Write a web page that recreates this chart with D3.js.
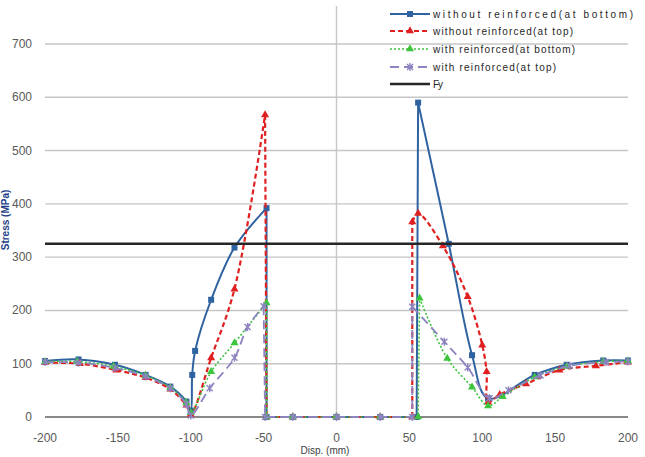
<!DOCTYPE html>
<html>
<head>
<meta charset="utf-8">
<script src="https://cdn.jsdelivr.net/npm/d3@7"></script>
<style>
  body { margin: 0; background: #fff; }
  text { font-family: "Liberation Sans", Arial, sans-serif; }
</style>
</head>
<body>
<script>
// values (disp in mm, stress in MPa)
var blueX = [-200, -177, -152, -131, -114, -103, -100, -99, -97, -86, -70, -48, -48, -30, 0, 30, 55, 56, 77, 93, 104, 136, 158, 183, 200];
var blueY = [105, 108, 98, 79, 57, 29, 12, 79, 124, 220, 318, 392, 0, 0, 0, 0, 0, 590, 325, 116, 35, 79, 98, 106, 106];

var redX = [-200, -176, -151, -131, -114, -103, -100, -86, -70, -49, -48, -30, 0, 30, 52, 52, 56, 73, 90, 100, 103, 104, 112, 130, 153, 178, 200];
var redY = [102, 100, 88, 74, 52, 22, 5, 111, 240, 567, 0, 0, 0, 0, 0, 366, 382, 321, 226, 135, 85, 28, 42, 62, 88, 96, 103];

var greenX = [-200, -178, -153, -131, -114, -103, -100, -86, -70, -48, -48, -30, 0, 30, 56, 57, 76, 93, 104, 114, 136, 158, 183, 200];
var greenY = [104, 104, 95, 78, 55, 27, 8, 85, 139, 214, 0, 0, 0, 0, 0, 223, 110, 56, 21, 38, 75, 95, 104, 105];

var purpleX = [-200, -177, -152, -131, -114, -103, -100, -87, -70, -61, -50, -49, -30, 0, 30, 52, 52, 74, 90, 105, 118, 140, 160, 185, 200];
var purpleY = [103, 102, 92, 76, 54, 24, 3, 54, 111, 169, 208, 0, 0, 0, 0, 0, 207, 141, 93, 35, 50, 78, 96, 103, 104];

var fy = 325;

var xTicks = [-200, -150, -100, -50, 0, 50, 100, 150, 200];
var yTicks = [0, 100, 200, 300, 400, 500, 600, 700];

var seriesNames = ["without reinforced(at bottom)", "without reinforced(at top)",
                   "with reinforced(at bottom)", "with reinforced(at top)", "Fy"];

var width = 645, height = 457;

var svg = d3.select("body").append("svg")
    .attr("width", width)
    .attr("height", height)
    .style("display", "block");

svg.append("rect").attr("width", width).attr("height", height).attr("fill", "#fff");

var x = d3.scaleLinear().domain([-200, 200]).range([45, 628]);
var y = d3.scaleLinear().domain([0, 700]).range([417, 44]);

// gridlines
svg.selectAll(".grid")
    .data(yTicks.filter(function(d) { return d > 0; }))
    .enter().append("line")
    .attr("x1", x(-200)).attr("x2", x(200))
    .attr("y1", function(d) { return y(d); })
    .attr("y2", function(d) { return y(d); })
    .attr("stroke", "#c6c6c6")
    .attr("stroke-width", 1.4);

// vertical axis at x = 0
svg.append("line")
    .attr("x1", x(0)).attr("x2", x(0))
    .attr("y1", 6).attr("y2", y(0))
    .attr("stroke", "#c6c6c6").attr("stroke-width", 1.4);

// horizontal axis
svg.append("line")
    .attr("x1", x(-200)).attr("x2", x(200))
    .attr("y1", y(0)).attr("y2", y(0))
    .attr("stroke", "#606060").attr("stroke-width", 1.6);

// tick labels
svg.selectAll(".ylab")
    .data(yTicks)
    .enter().append("text")
    .attr("x", 32)
    .attr("y", function(d) { return y(d) + 4; })
    .attr("text-anchor", "end")
    .attr("font-size", 12)
    .attr("fill", "#595959")
    .text(function(d) { return d; });

svg.selectAll(".xlab")
    .data(xTicks)
    .enter().append("text")
    .attr("x", function(d) { return x(d); })
    .attr("y", 442)
    .attr("text-anchor", "middle")
    .attr("font-size", 12)
    .attr("fill", "#595959")
    .text(function(d) { return d; });

svg.append("text")
    .attr("x", 325).attr("y", 454)
    .attr("text-anchor", "middle")
    .attr("font-size", 10)
    .attr("fill", "#404040")
    .text("Disp.  (mm)");

svg.append("text")
    .attr("transform", "translate(9,220) rotate(-90)")
    .attr("text-anchor", "middle")
    .attr("font-size", 10)
    .attr("font-weight", "bold")
    .attr("fill", "#1f3f8a")
    .text("Stress (MPa)");

// series
var styles = [
    { xs: blueX, ys: blueY, color: "#2f62a0", width: 2, dash: null, marker: "square" },
    { xs: redX, ys: redY, color: "#e02020", width: 2.2, dash: "5,3", marker: "triangle" },
    { xs: greenX, ys: greenY, color: "#3cc43c", width: 1.6, dash: "2,2", marker: "triangle" },
    { xs: purpleX, ys: purpleY, color: "#8c84c0", width: 1.8, dash: "9,5", marker: "star" }
];

var smooth = d3.line()
    .x(function(d) { return x(d[0]); })
    .y(function(d) { return y(d[1]); })
    .curve(d3.curveCatmullRom.alpha(0.5));

var straight = d3.line()
    .x(function(d) { return x(d[0]); })
    .y(function(d) { return y(d[1]); });

function drawMarker(g, type, color, cx, cy) {
    if (type === "square") {
        g.append("rect")
            .attr("x", cx - 3).attr("y", cy - 3)
            .attr("width", 6).attr("height", 6)
            .attr("fill", color);
    } else if (type === "triangle") {
        g.append("path")
            .attr("d", d3.symbol().type(d3.symbolTriangle).size(28)())
            .attr("transform", "translate(" + cx + "," + cy + ")")
            .attr("fill", color);
    } else {
        g.append("path")
            .attr("d", "M-3,-3L3,3M-3,3L3,-3M0,-4L0,4")
            .attr("transform", "translate(" + cx + "," + cy + ")")
            .attr("stroke", color).attr("stroke-width", 1.4).attr("fill", "none");
    }
}

styles.forEach(function(s) {
    var pts = s.xs.map(function(v, i) { return [v, s.ys[i]]; });
    // the flat zero stretch and the vertical jumps into it are straight, the rest is smoothed
    var first0 = s.ys.indexOf(0), last0 = s.ys.lastIndexOf(0);
    var parts = [
        { p: pts.slice(0, first0), gen: smooth },
        { p: pts.slice(first0 - 1, last0 + 2), gen: straight },
        { p: pts.slice(last0 + 1), gen: smooth }
    ];
    var g = svg.append("g");
    parts.forEach(function(part) {
        g.append("path")
            .datum(part.p)
            .attr("d", part.gen)
            .attr("fill", "none")
            .attr("stroke", s.color)
            .attr("stroke-width", s.width)
            .attr("stroke-dasharray", s.dash);
    });
    pts.forEach(function(p) { drawMarker(g, s.marker, s.color, x(p[0]), y(p[1])); });
});

// Fy
svg.append("line")
    .attr("x1", x(-200)).attr("x2", x(200))
    .attr("y1", y(fy)).attr("y2", y(fy))
    .attr("stroke", "#262626").attr("stroke-width", 2.4);

// legend
var legendY = [14, 31, 49, 67, 84];
var legendLen = [200, 140, 142, 123, 10];
var legend = svg.append("g");
seriesNames.forEach(function(name, i) {
    var ly = legendY[i];
    if (i < 4) {
        var s = styles[i];
        legend.append("line")
            .attr("x1", 390).attr("x2", 430).attr("y1", ly).attr("y2", ly)
            .attr("stroke", s.color).attr("stroke-width", s.width)
            .attr("stroke-dasharray", s.dash);
        drawMarker(legend, s.marker, s.color, 410, ly);
    } else {
        legend.append("line")
            .attr("x1", 390).attr("x2", 430).attr("y1", ly).attr("y2", ly)
            .attr("stroke", "#262626").attr("stroke-width", 2.4);
    }
    legend.append("text")
        .attr("x", 433).attr("y", ly + 4)
        .attr("font-size", 10)
        .attr("fill", "#262626")
        .attr("textLength", legendLen[i])
        .attr("lengthAdjust", "spacing")
        .text(name);
});
</script>
</body>
</html>
